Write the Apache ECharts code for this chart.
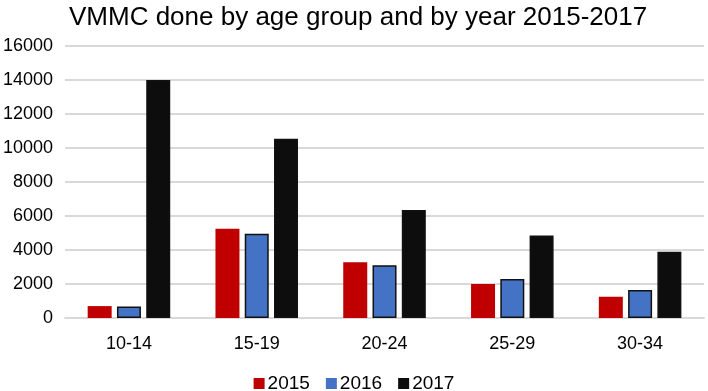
<!DOCTYPE html>
<html>
<head>
<meta charset="utf-8">
<script src="https://cdn.jsdelivr.net/npm/echarts@6/dist/echarts.min.js"></script>
<style>
  html, body { margin: 0; padding: 0; background: #fff; }
  #chart { width: 708px; height: 391px; }
</style>
</head>
<body>
<div id="chart"></div>
<script>
const ageGroups = ['10-14', '15-19', '20-24', '25-29', '30-34']
const years = ['2015', '2016', '2017']
const done2015 = [700, 5250, 3280, 2000, 1250]
const done2016 = [680, 4950, 3100, 2300, 1650]
const done2017 = [14000, 10550, 6350, 4850, 3900]

const colors = ['#C00000', '#4472C4', '#0D0D0D']
const values = [done2015, done2016, done2017]
const font = 'Liberation Sans, Arial, sans-serif'

const chart = echarts.init(document.getElementById('chart'))

chart.setOption({
  animation: false,
  title: {
    text: 'VMMC done by age group and by year 2015-2017',
    left: 64,
    top: 0,
    textStyle: { fontFamily: font, fontSize: 26, fontWeight: 'normal', color: '#000' },
  },
  legend: {
    top: 369,
    left: 'center',
    icon: 'rect',
    itemWidth: 11,
    itemHeight: 11,
    itemGap: 16,
    itemStyle: { borderWidth: 0 },
    textStyle: { fontFamily: font, fontSize: 19, color: '#000', padding: [0, 0, 0, -2] },
    data: years,
  },
  grid: { left: 64, right: 4, top: 46, bottom: 73 },
  xAxis: {
    type: 'category',
    data: ageGroups,
    axisLine: { lineStyle: { color: '#D9D9D9', width: 2 } },
    axisTick: { show: false },
    axisLabel: { fontFamily: font, fontSize: 18, color: '#000', margin: 17 },
  },
  yAxis: {
    type: 'value',
    min: 0,
    max: 16000,
    interval: 2000,
    axisLine: { show: false },
    axisTick: { show: false },
    axisLabel: {
      fontFamily: font,
      fontSize: 18,
      color: '#000',
      margin: 12,
      formatter: (v) => String(v),
    },
    splitLine: { lineStyle: { color: '#D9D9D9', width: 2 } },
  },
  series: years.map((y, i) => ({
    name: y,
    type: 'bar',
    data: values[i],
    barWidth: 24,
    barGap: '22%',
    itemStyle: {
      color: colors[i],
      borderColor: i === 0 ? colors[i] : '#111',
      borderWidth: i === 0 ? 0 : 1.5,
    },
  })),
})
</script>
</body>
</html>
